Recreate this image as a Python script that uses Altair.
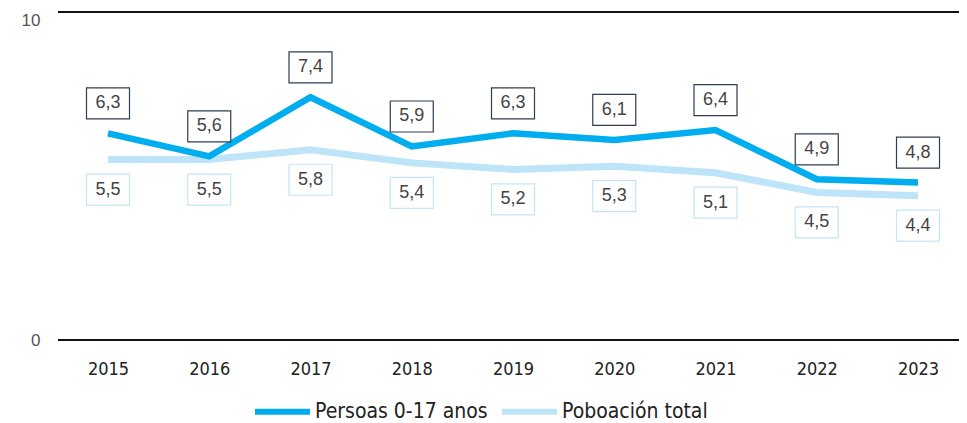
import altair as alt
import pandas as pd

years = ["2015", "2016", "2017", "2018", "2019", "2020", "2021", "2022", "2023"]
child = [6.3, 5.6, 7.4, 5.9, 6.3, 6.1, 6.4, 4.9, 4.8]
total = [5.5, 5.5, 5.8, 5.4, 5.2, 5.3, 5.1, 4.5, 4.4]
series_names = ["Persoas 0-17 anos", "Poboación total"]
colors = ["#00adef", "#bde4f9"]
ref_values = [0, 10]

rows = []
for y, c, t in zip(years, child, total):
    rows.append({"year": y, "value": c, "series": series_names[0], "label": f"{c:.1f}".replace(".", ",")})
    rows.append({"year": y, "value": t, "series": series_names[1], "label": f"{t:.1f}".replace(".", ",")})
df = pd.DataFrame(rows)
ref_df = pd.DataFrame({"value": ref_values})

narrow = "'Liberation Sans Narrow', 'DejaVu Sans Condensed', 'Roboto Condensed', 'Liberation Sans', sans-serif"
xscale = alt.Scale(type="point", domain=years, range=[50, 860], padding=0)
yscale = alt.Scale(domain=[0, 10], nice=False)

x = alt.X("year:O", scale=xscale,
          axis=alt.Axis(title=None, domain=False, ticks=False, grid=False, labelPadding=20,
                        labelAngle=0, labelFont=narrow, labelFontSize=18, labelColor="#222222"))
yaxis = alt.Axis(title=None, values=ref_values, domain=False, ticks=False, grid=False,
                 labelPadding=18, labelFont="Liberation Sans", labelFontSize=17,
                 labelColor="#555555",
                 labelBaseline={"condition": {"test": "datum.value == 10", "value": "top"},
                                "value": "middle"})
y = alt.Y("value:Q", scale=yscale, axis=yaxis)

base = alt.Chart(df)

rules = alt.Chart(ref_df).mark_rule(color="#111111", strokeWidth=2).encode(y=y)

legend_layer = base.mark_line(strokeWidth=0, opacity=0).encode(
    x=x, y=y,
    color=alt.Color("series:N", sort=series_names,
                    scale=alt.Scale(domain=series_names, range=colors),
                    legend=alt.Legend(title=None, orient="none", direction="horizontal",
                                      legendX=194, legendY=369, symbolType="stroke",
                                      symbolSize=3025, symbolStrokeWidth=6, symbolOpacity=1,
                                      labelOffset=2, columnPadding=2, labelFont=narrow,
                                      labelFontSize=21, labelColor="#222222", labelLimit=300)),
)

child_df = base.transform_filter(alt.datum.series == series_names[0])
total_df = base.transform_filter(alt.datum.series == series_names[1])

lines_total = total_df.mark_line(strokeWidth=7, strokeCap="butt", color=colors[1]).encode(x=x, y=y)
lines_child = child_df.mark_line(strokeWidth=6.5, strokeCap="butt", color=colors[0]).encode(x=x, y=y)

box_child = child_df.mark_rect(width=43, height=31, yOffset=-30, fill="white",
                               stroke="#2e3e52", strokeWidth=1.2).encode(x=x, y=y)
text_child = child_df.mark_text(yOffset=-30, font="Liberation Sans", fontSize=18,
                                color="#444444").encode(x=x, y=y, text="label:N")
box_total = total_df.mark_rect(width=43, height=31, yOffset=30, fill="white",
                               stroke="#c4e5f8", strokeWidth=1.2).encode(x=x, y=y)
text_total = total_df.mark_text(yOffset=30, font="Liberation Sans", fontSize=18,
                                color="#444444").encode(x=x, y=y, text="label:N")

chart = alt.layer(rules, legend_layer, lines_total, lines_child, box_child, text_child,
                  box_total, text_total).properties(
    width=901, height=328,
    background="white",
    autosize=alt.AutoSizeParams(type="none"),
    padding={"left": 50, "top": 4, "right": 0, "bottom": 83},
).configure_view(strokeWidth=0, stroke="transparent").configure_axis(
    domain=False, grid=False, ticks=False
)

chart.save("out.html", embed_options={"renderer": "svg", "actions": False})
